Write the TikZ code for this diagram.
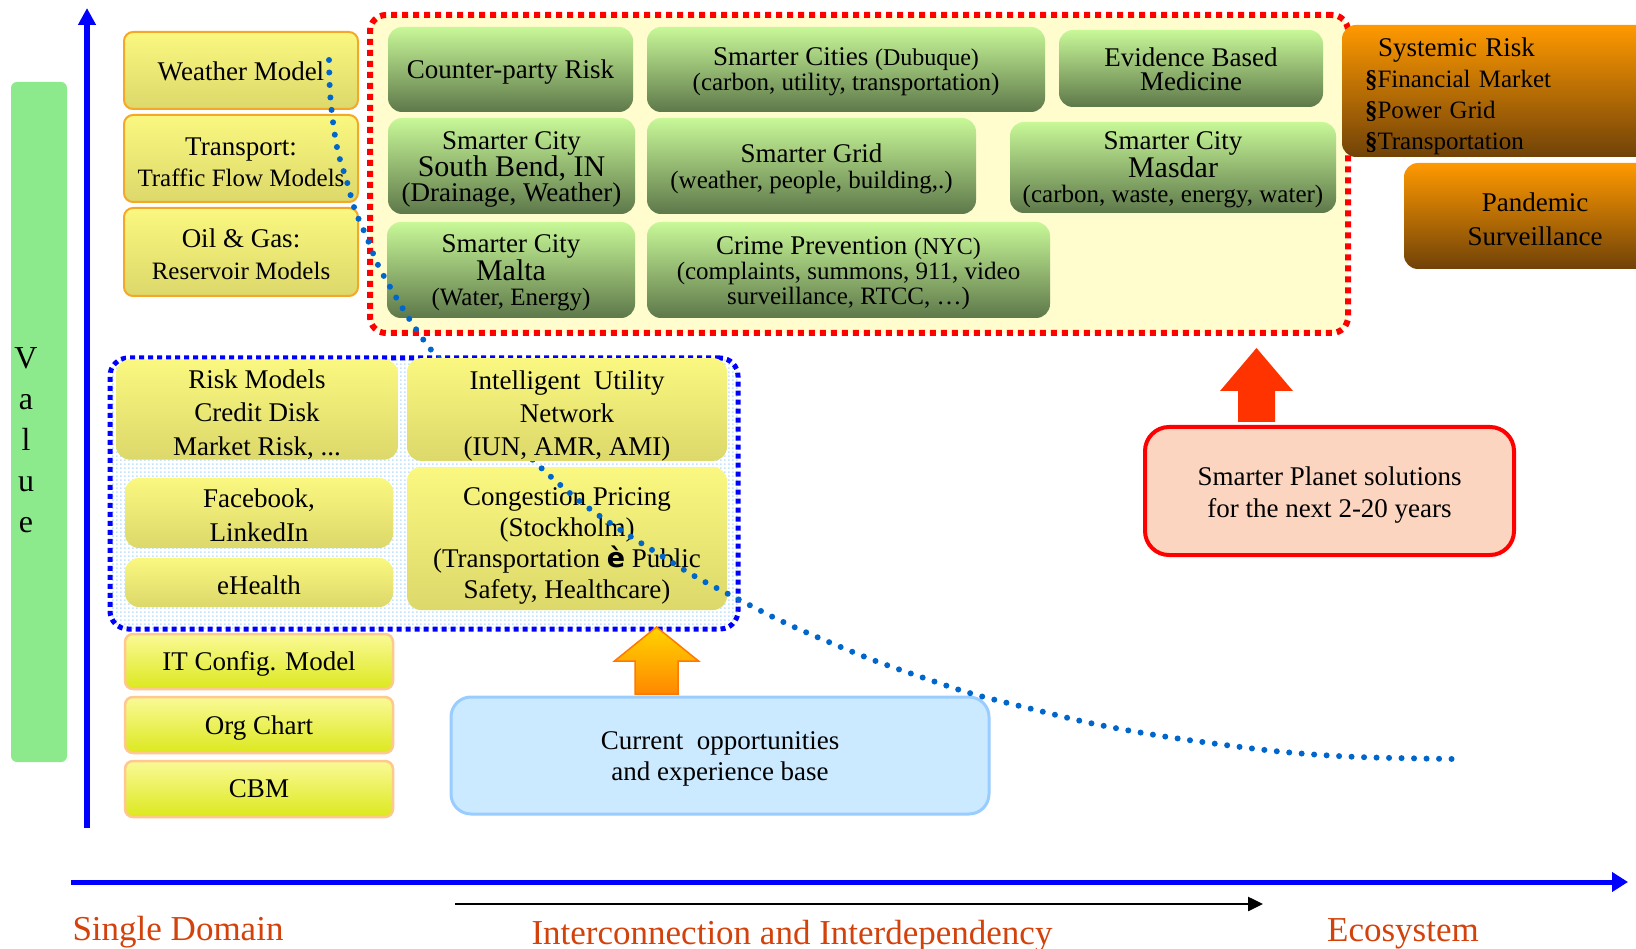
\documentclass[tikz,border=0pt]{standalone}
\usepackage{fontspec}
\setmainfont{Liberation Serif}
\newfontfamily\symfont{DejaVu Sans}
\usetikzlibrary{arrows.meta,patterns}
\newcommand\fsz[2]{\fontsize{#1}{#2}\selectfont}
% strut on a first line: lowers the whole text block by about #1 pt
\newcommand\tdown[1]{\rule{0pt}{\dimexpr19pt+#1pt*2\relax}}

\definecolor{valuegreen}{RGB}{140,234,140}
\definecolor{axisblue}{RGB}{0,0,255}
\definecolor{labelred}{RGB}{212,66,12}
\definecolor{zonefill}{RGB}{255,252,206}
\definecolor{zonered}{RGB}{255,0,0}
\definecolor{gtop}{RGB}{200,248,152}
\definecolor{gbot}{RGB}{94,120,74}
\definecolor{otop}{RGB}{255,153,0}
\definecolor{obot}{RGB}{112,66,8}
\definecolor{ytop}{RGB}{250,248,128}
\definecolor{ybot}{RGB}{220,216,106}
\definecolor{yborder}{RGB}{245,168,40}
\definecolor{ltop}{RGB}{250,250,150}
\definecolor{lbot}{RGB}{220,232,30}
\definecolor{lborder}{RGB}{255,200,140}
\definecolor{dotblue}{RGB}{0,102,204}
\definecolor{gridblue}{RGB}{196,226,250}
\definecolor{curfill}{RGB}{204,234,255}
\definecolor{curborder}{RGB}{153,204,255}
\definecolor{planetfill}{RGB}{252,213,192}
\definecolor{arrowred}{RGB}{255,51,0}
\definecolor{atop}{RGB}{255,212,0}
\definecolor{abot}{RGB}{255,136,0}
\definecolor{aborder}{RGB}{255,120,0}

% light blue dotted grid used inside the current-solutions zone
\pgfdeclarepatternformonly{griddots}{\pgfpointorigin}{\pgfpoint{4pt}{4pt}}{\pgfpoint{4pt}{4pt}}%
  {\pgfpathrectangle{\pgfpointorigin}{\pgfpoint{2pt}{2pt}}\pgfusepath{fill}}

\tikzset{
  txt/.style={align=center, inner sep=0pt},
  tlbox/.style={txt, draw=yborder, line width=2pt, rounded corners=9pt,
    top color=ytop, bottom color=ybot, minimum width=234pt},
  gbox/.style={txt, rounded corners=14pt, top color=gtop, bottom color=gbot,
    font={\fsz{27}{25}}},
  obox/.style={txt, rounded corners=14pt, top color=otop, bottom color=obot},
  inbox/.style={txt, rounded corners=14pt, top color=ytop, bottom color=ybot,
    font={\fsz{27}{34}}},
  lowbox/.style={txt, draw=lborder, line width=2.5pt, rounded corners=8pt,
    top color=ltop, bottom color=lbot, font={\fsz{27}{30}},
    minimum width=268pt, minimum height=55pt},
  axisline/.style={draw=axisblue, line width=5.5pt},
  axislabel/.style={labelred, font={\fsz{35}{40}}, anchor=base, inner sep=0pt},
}

\begin{document}
\begin{tikzpicture}[x=1pt,y=-1pt]
\clip (0,0) rectangle (1636,949);
\fill[white] (0,0) rectangle (1636,949);

% value bar and axes
\node[fill=valuegreen, rounded corners=6pt, minimum width=56pt, minimum height=680pt, inner sep=0pt] (valuebar) at (39,422) {};
\node[txt, font={\fsz{32}{41}}] (valuelabel) at (26,440) {V\\a\\l\\u\\e};

\coordinate (yaxbot) at (87,828);
\coordinate (yaxtop) at (87,8);
\draw[axisline, -{Triangle[length=17pt,width=17pt]}] (yaxbot) -- (yaxtop);
\coordinate (xaxleft) at (71,882);
\coordinate (xaxright) at (1628,882);
\draw[axisline, line width=5pt, -{Triangle[length=16pt,width=19pt]}] (xaxleft) -- (xaxright);
\coordinate (trendleft) at (455,904);
\coordinate (trendright) at (1263,904);
\draw[black, line width=2.5pt, -{Triangle[length=15pt,width=14pt]}] (trendleft) -- (trendright);

\node[axislabel] (single) at (178,940) {Single Domain};
\node[axislabel] (inter) at (792,944) {Interconnection and Interdependency};
\node[axislabel] (eco) at (1403,941) {Ecosystem};

% future solutions zone
\node[draw=zonered, line width=6pt, dash pattern=on 6pt off 5pt, fill=zonefill,
  rounded corners=16pt, minimum width=978pt, minimum height=318pt, inner sep=0pt] (redzone) at (859,174) {};

\node[gbox, minimum width=245pt, minimum height=85pt] (counter) at (510.5,69.5) {\tdown{2}Counter-party Risk};
\node[gbox, minimum width=398pt, minimum height=85pt] (cities) at (846,69.5)
  {\tdown{2}Smarter Cities {\fsz{24}{25}(Dubuque)}\\{\fsz{25}{25}(carbon, utility, transportation)}};
\node[gbox, minimum width=264pt, minimum height=77pt, font={\fsz{27}{24}}] (evidence) at (1191,68.5)
  {\tdown{1}Evidence Based\\Medicine};
\node[gbox, minimum width=247pt, minimum height=96pt] (southbend) at (511.5,166)
  {\tdown{3}Smarter City\\{\fsz{30}{25}South Bend, IN}\\(Drainage, Weather)};
\node[gbox, minimum width=329pt, minimum height=96pt, font={\fsz{27}{26}}] (sgrid) at (811.5,166)
  {\tdown{3}Smarter Grid\\{\fsz{25}{25}(weather, people, building,.)}};
\node[gbox, minimum width=326pt, minimum height=91pt] (masdar) at (1173,167.5)
  {\tdown{1.5}Smarter City\\{\fsz{30}{25}Masdar}\\{\fsz{25}{25}(carbon, waste, energy, water)}};
\node[gbox, minimum width=248pt, minimum height=96pt] (malta) at (511,270)
  {\tdown{2.5}Smarter City\\{\fsz{30}{25}Malta}\\{\fsz{25}{25}(Water, Energy)}};
\node[gbox, minimum width=403pt, minimum height=96pt] (crime) at (848.5,270)
  {\tdown{2.5}Crime Prevention {\fsz{24}{25}(NYC)}\\{\fsz{25}{25}(complaints, summons, 911, video}\\{\fsz{25}{25}surveillance, RTCC, …)}};

% ecosystem-level items
\node[obox, minimum width=320pt, minimum height=132pt, text width=274pt, align=left,
  font={\fsz{25}{31}}] (systemic) at (1502,91)
  {\tdown{5}\hspace*{13pt}{\fsz{27}{31}Systemic Risk}\\\textbf{§}Financial Market\\\textbf{§}Power Grid\\\textbf{§}Transportation};
\node[obox, minimum width=262pt, minimum height=106pt, font={\fsz{27}{34}}] (pandemic) at (1535,216)
  {\tdown{3}Pandemic\\Surveillance};

% single domain models
\node[tlbox, minimum height=77pt, font={\fsz{27}{30}}] (weather) at (241,70.5) {\tdown{1}Weather Model};
\node[tlbox, minimum height=87pt, font={\fsz{27}{31}}] (transport) at (241,158.5)
  {\tdown{3}Transport:\\{\fsz{25}{31}Traffic Flow Models}};
\node[tlbox, minimum height=88pt, font={\fsz{27}{32}}] (oilgas) at (241,252)
  {\tdown{2}Oil \& Gas:\\{\fsz{25}{32}Reservoir Models}};

% current solutions zone
\node[draw=axisblue, line width=5pt, dash pattern=on 5pt off 4pt, pattern=griddots, pattern color=gridblue,
  rounded corners=18pt, minimum width=628pt, minimum height=271pt, inner sep=0pt] (bluezone) at (424,493.5) {};
\node[inbox, minimum width=282pt, minimum height=95pt, font={\fsz{27}{33.5}}] (riskmodels) at (257,409.5)
  {\tdown{5}Risk Models\\Credit Disk\\Market Risk, ...};
\node[inbox, minimum width=268pt, minimum height=70pt] (facebook) at (259,513) {\tdown{2}Facebook,\\LinkedIn};
\node[inbox, minimum width=268pt, minimum height=49pt] (ehealth) at (259,582.5) {\tdown{3}eHealth};
\node[inbox, minimum width=320pt, minimum height=143pt, font={\fsz{27}{31}}] (congestion) at (567,538.5)
  {\tdown{7}Congestion Pricing\\(Stockholm)\\(Transportation {\symfont\bfseries è} Public\\Safety, Healthcare)};

\node[lowbox] (itconfig) at (259,661.5) {\tdown{2}IT Config. Model};
\node[lowbox, minimum height=56pt] (orgchart) at (259,725) {\tdown{3}Org Chart};
\node[lowbox, minimum height=56pt] (cbm) at (259,789) {CBM};

\node[txt, draw=curborder, line width=3pt, fill=curfill, rounded corners=20pt,
  minimum width=538pt, minimum height=117pt, font={\fsz{27}{31}}] (current) at (720,755.5)
  {\tdown{3}Current\ \ opportunities\\and experience base};
\node[txt, draw=zonered, line width=4pt, fill=planetfill, rounded corners=24pt,
  minimum width=369pt, minimum height=128pt, font={\fsz{27}{32}}] (planet) at (1329.5,491)
  {\tdown{4}Smarter Planet solutions\\for the next 2-20 years};

% block arrows
\coordinate (orangefoot) at (656.5,694);
\path[draw=aborder, line width=1.5pt, top color=atop, bottom color=abot]
  (orangefoot) ++(-21.5,0) -- ++(0,-33) -- ++(-20.5,0) -- ++(42,-34) -- ++(42,34)
  -- ++(-20.5,0) -- ++(0,33) -- cycle;
\coordinate (redfoot) at (1256.5,422);
\fill[arrowred] (redfoot) ++(-18.5,0) -- ++(0,-31) -- ++(-18,0) -- ++(36.5,-43) -- ++(36.5,43)
  -- ++(-18,0) -- ++(0,31) -- cycle;

% value trend curve
\draw[dotblue, line width=6pt, line cap=round, dash pattern=on 0pt off 12.5pt]
  plot[smooth, tension=0.55] coordinates {
  (329,60) (330,92) (333,122) (338,152) (347,182) (355,210) (367,238) (378,265)
  (393,292) (408,317) (425,342) (440,360) (490,415) (537,464) (582,503) (619,529)
  (657,553) (696,577) (736,598) (777,619) (817,637) (873,660) (930,680) (973,694)
  (1032,709) (1090,723) (1149,734) (1210,743) (1284,752) (1358,757) (1454,759)};

% this box hides the curve where it passes behind
\node[inbox, minimum width=320pt, minimum height=95pt, font={\fsz{27}{33}}] (iun) at (567,409.5)
  {\tdown{6}Intelligent\ \ Utility\\Network\\(IUN, AMR, AMI)};
\end{tikzpicture}
\end{document}
